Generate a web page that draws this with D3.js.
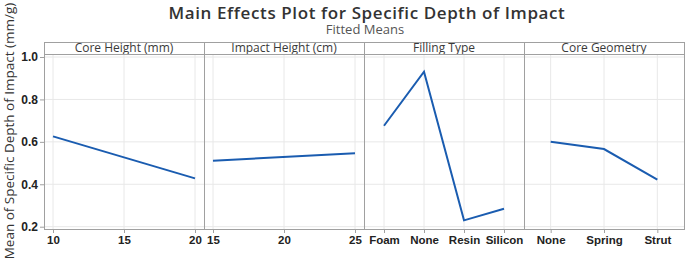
<!DOCTYPE html>
<html>
<head>
<meta charset="utf-8">
<script src="https://cdn.jsdelivr.net/npm/d3@7"></script>
<style>
body { margin: 0; background: #fff; }
svg { display: block; font-family: "Open Sans", "Noto Sans", sans-serif; }
</style>
</head>
<body>
<svg id="chart" width="685" height="260"></svg>
<script>
// data
var factors = ["Core Height (mm)", "Impact Height (cm)", "Filling Type", "Core Geometry"];
var coreHeightLevels = [10, 20];
var coreHeightMeans = [0.626, 0.428];
var coreHeightTicks = [10, 15, 20];
var impactHeightLevels = [15, 25];
var impactHeightMeans = [0.511, 0.546];
var impactHeightTicks = [15, 20, 25];
var fillingLevels = ["Foam", "None", "Resin", "Silicon"];
var fillingMeans = [0.676, 0.931, 0.230, 0.285];
var geometryLevels = ["None", "Spring", "Strut"];
var geometryMeans = [0.600, 0.566, 0.422];
var yTicks = [0.2, 0.4, 0.6, 0.8, 1.0];

var panels = [
	{name: factors[0], type: "num", levels: coreHeightLevels, means: coreHeightMeans, ticks: coreHeightTicks},
	{name: factors[1], type: "num", levels: impactHeightLevels, means: impactHeightMeans, ticks: impactHeightTicks},
	{name: factors[2], type: "cat", levels: fillingLevels, means: fillingMeans, ticks: fillingLevels},
	{name: factors[3], type: "cat", levels: geometryLevels, means: geometryMeans, ticks: geometryLevels}
];

var plotLeft = 44, plotRight = 684, plotTop = 42, stripH = 12, plotBottom = 229;
var panelW = (plotRight - plotLeft) / panels.length;
var lineColor = "#1a5cb0";
var frameColor = "#a0a0a0";
var gridColor = "#e8e8e8";

var svg = d3.select("#chart");

var y = d3.scaleLinear()
	.domain([0.2, 1.0])
	.range([226.7, 57]);

// titles
svg.append("text")
	.attr("x", 367).attr("y", 18.5)
	.attr("text-anchor", "middle")
	.style("font-size", "17px").style("font-weight", 600).style("fill", "#333")
	.style("letter-spacing", "0.6px")
	.text("Main Effects Plot for Specific Depth of Impact");

svg.append("text")
	.attr("x", 365).attr("y", 34)
	.attr("text-anchor", "middle")
	.style("font-size", "13px").style("fill", "#555")
	.text("Fitted Means");

svg.append("text")
	.attr("transform", "translate(14," + 131 + ") rotate(-90)")
	.attr("text-anchor", "middle")
	.style("font-size", "13.5px").style("fill", "#333")
	.text("Mean of Specific Depth of Impact (mm/g)");

// y axis
var yAxis = d3.axisLeft(y).tickValues(yTicks).tickFormat(d3.format(".1f")).tickSize(4).tickSizeOuter(0);
var yg = svg.append("g")
	.attr("transform", "translate(" + plotLeft + ",0)")
	.call(yAxis);
yg.select(".domain").remove();
yg.selectAll("line").attr("stroke", frameColor);
yg.selectAll("text")
	.style("font-size", "12px").style("font-weight", 600).style("fill", "#222")
	.attr("x", -6);

panels.forEach(function(p, i) {
	var x0 = plotLeft + i * panelW, x1 = x0 + panelW;
	var x;
	if (p.type == "num") {
		x = d3.scaleLinear().domain(d3.extent(p.ticks)).range([x0 + 9, x1 - 9]);
	} else {
		x = d3.scalePoint().domain(p.levels).range([x0, x1]).padding(0.5);
	}

	var g = svg.append("g").attr("class", "panel");

	// grid
	g.selectAll(".hgrid")
		.data(yTicks)
		.enter().append("line")
		.attr("x1", x0).attr("x2", x1)
		.attr("y1", function(d) { return y(d); })
		.attr("y2", function(d) { return y(d); })
		.attr("stroke", gridColor);

	g.selectAll(".vgrid")
		.data(p.ticks)
		.enter().append("line")
		.attr("x1", function(d) { return x(d); })
		.attr("x2", function(d) { return x(d); })
		.attr("y1", plotTop + stripH).attr("y2", plotBottom)
		.attr("stroke", gridColor);

	// x axis
	var xAxis = (p.type == "num" ? d3.axisBottom(x).tickValues(p.ticks).tickFormat(d3.format("d")) : d3.axisBottom(x))
		.tickSize(4).tickSizeOuter(0);
	var xg = g.append("g")
		.attr("transform", "translate(0," + plotBottom + ")")
		.call(xAxis);
	xg.select(".domain").remove();
	xg.selectAll("line").attr("stroke", frameColor);
	xg.selectAll("text")
		.attr("y", 7)
		.style("font-size", "11.5px").style("font-weight", 600).style("fill", "#222");

	// strip
	g.append("rect")
		.attr("x", x0 + 0.5).attr("y", plotTop + 0.5)
		.attr("width", panelW).attr("height", stripH)
		.attr("fill", "#fff").attr("stroke", frameColor);
	g.append("text")
		.attr("x", (x0 + x1) / 2).attr("y", plotTop + stripH - 2)
		.attr("text-anchor", "middle")
		.style("font-size", "12px").style("fill", "#3a3a3a")
		.text(p.name);

	// frame
	g.append("rect")
		.attr("x", x0 + 0.5).attr("y", plotTop + stripH + 0.5)
		.attr("width", panelW).attr("height", plotBottom - plotTop - stripH)
		.attr("fill", "none").attr("stroke", frameColor);

	// line
	var line = d3.line()
		.x(function(d, j) { return x(p.levels[j]); })
		.y(function(d) { return y(d); });
	g.append("path")
		.datum(p.means)
		.attr("d", line)
		.attr("fill", "none")
		.attr("stroke", lineColor)
		.attr("stroke-width", 2);
});
</script>
</body>
</html>
